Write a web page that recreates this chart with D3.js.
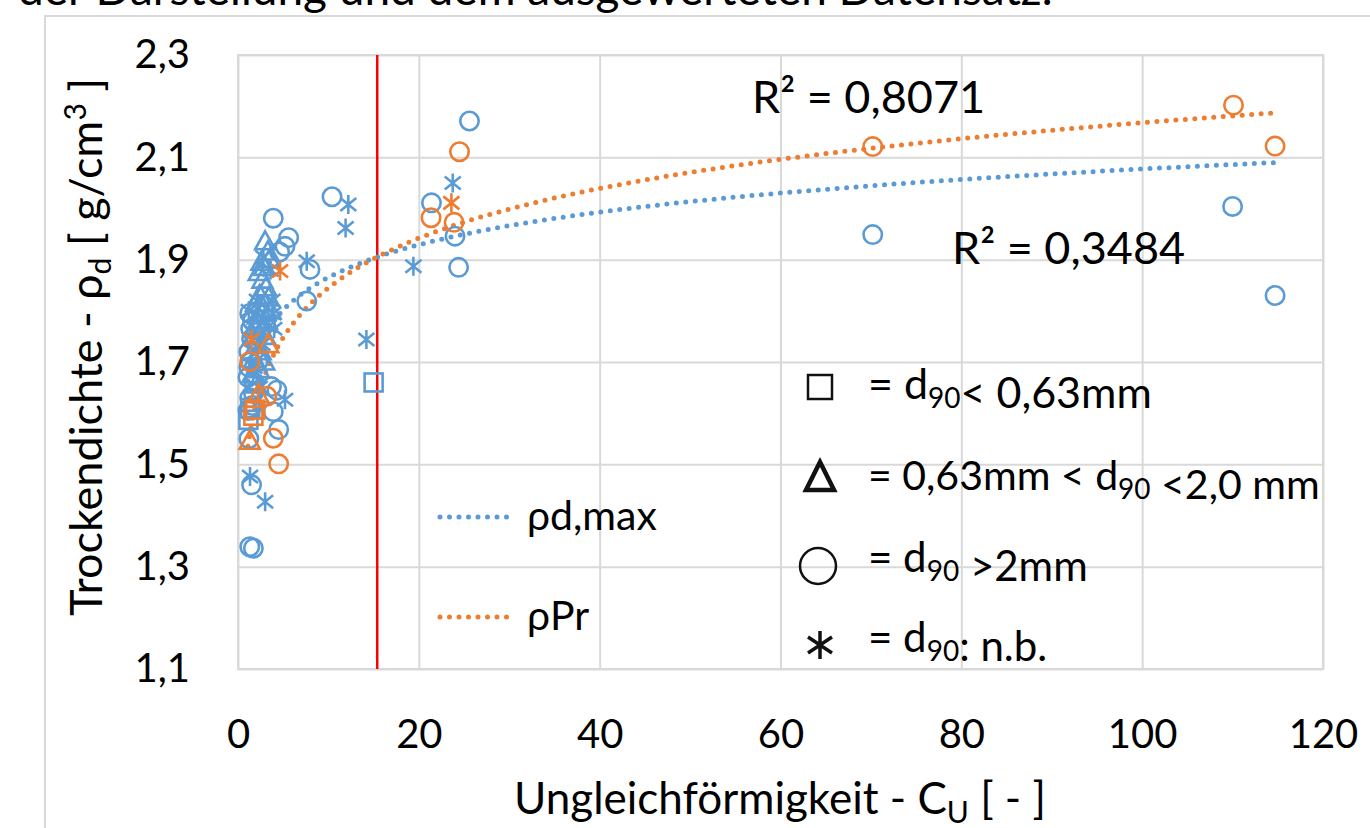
<!DOCTYPE html>
<html>
<head>
<meta charset="utf-8">
<script src="https://cdn.jsdelivr.net/npm/d3@7"></script>
<style>
  body { margin: 0; background: #fff; }
  svg { display: block; }
  text { font-family: Lato, "Open Sans", sans-serif; fill: #000; }
</style>
</head>
<body>
<svg id="chart" width="1370" height="828"></svg>
<script>
// axis ticks
var xTicks = [0, 20, 40, 60, 80, 100, 120];
var yTicks = [1.1, 1.3, 1.5, 1.7, 1.9, 2.1, 2.3];

// rho_d,max (blue) as [Cu, rho_d], split by d90 class
var dmaxCircle = [[25.6,2.171],[21.4,2.011],[24.0,1.946],[24.4,1.885],[10.4,2.023],[7.96,1.881],[7.6,1.819],
    [70.2,1.949],[110.0,2.004],[114.7,1.830],[3.9,1.981],[5.6,1.943],[5.2,1.926],[4.6,1.915],
    [3.7,1.652],[4.3,1.645],[3.9,1.603],[4.5,1.568],[1.5,1.460],[1.3,1.339],[1.7,1.336],[1.2,1.550],
    [1.3,1.795],[1.6,1.780],[1.2,1.720],[2.0,1.740],[1.4,1.700],[1.1,1.670],[1.8,1.660],[1.3,1.630],
    [1.6,1.615],[1.1,1.605],[2.2,1.700],[1.5,1.745],[1.2,1.690],[1.7,1.640],[1.4,1.765],[2.4,1.775]];
var dmaxTriangle = [[3.0,1.935],[3.3,1.915],[2.6,1.895],[2.9,1.885],[3.5,1.900],[2.3,1.875],[2.7,1.860],
    [3.1,1.845],[2.4,1.830],[3.4,1.825],[2.0,1.815],[2.8,1.805],[3.6,1.800],[2.2,1.790],[3.2,1.780],
    [1.9,1.770],[2.6,1.760],[3.0,1.750],[2.1,1.735],[2.5,1.720],[1.8,1.705],[2.9,1.700],[2.3,1.685],
    [1.6,1.675],[2.0,1.655],[1.7,1.750],[2.7,1.795]];
var dmaxSquare = [[15.0,1.660],[1.15,1.587],[1.35,1.610]];
var dmaxStar = [[23.75,2.050],[19.4,1.887],[12.2,2.008],[11.9,1.962],[7.6,1.897],[14.2,1.744],[5.2,1.626],
    [1.33,1.476],[3.0,1.427],[2.8,1.905],[3.6,1.880],[2.1,1.820],[3.9,1.795],[1.5,1.760],[2.7,1.735],
    [3.4,1.770],[1.8,1.690],[4.0,1.765],[2.4,1.650],[1.2,1.800],[3.8,1.820]];

// rho_Pr (orange)
var prCircle = [[21.35,1.982],[23.9,1.973],[24.5,2.111],[70.2,2.121],[110.1,2.202],[114.7,2.122],
    [1.3,1.701],[3.2,1.633],[3.9,1.551],[4.5,1.501]];
var prTriangle = [[3.35,1.734],[2.25,1.636],[1.3,1.545]];
var prSquare = [[1.9,1.607],[1.7,1.595]];
var prStar = [[1.5,1.744],[4.65,1.878],[23.6,2.011]];

// log trend lines y = a*ln(x) + b
var trendDmax = [0.092, 1.6535];
var trendPr = [0.1402, 1.522];
var trendRange = [1.1, 114.7];
var cuLimit = 15.4;

var blue = '#5b9bd5', orange = '#ed7d31', grid = '#d9d9d9';

var svg = d3.select('#chart');
var margin = { left: 238, right: 1323, top: 55, bottom: 669 };

var x = d3.scaleLinear().domain([0, 120]).range([margin.left, margin.right]);
var y = d3.scaleLinear().domain([1.1, 2.3]).range([margin.bottom, margin.top]);

var de = d3.formatLocale({ decimal: ',', thousands: '.', grouping: [3], currency: ['', '€'] });
var fmt1 = de.format('.1f');

// cropped caption line from the page above
svg.append('text')
    .attr('x', 18).attr('y', 5)
    .style('font-size', '46px')
    .text('der Darstellung und dem ausgewerteten Datensatz.');

// outer chart frame
svg.append('path')
    .attr('d', 'M45,828 V16 H1370')
    .attr('fill', 'none').attr('stroke', grid).attr('stroke-width', 2);

// gridlines
svg.append('g')
    .attr('transform', 'translate(' + margin.left + ',0)')
    .call(d3.axisLeft(y).tickValues(yTicks).tickSize(-(margin.right - margin.left)).tickFormat(''))
    .call(function (g) {
        g.select('.domain').remove();
        g.selectAll('line').attr('stroke', grid).attr('stroke-width', 2);
    });
svg.append('g')
    .attr('transform', 'translate(0,' + margin.bottom + ')')
    .call(d3.axisBottom(x).tickValues(xTicks).tickSize(-(margin.bottom - margin.top)).tickFormat(''))
    .call(function (g) {
        g.select('.domain').remove();
        g.selectAll('line').attr('stroke', grid).attr('stroke-width', 2);
    });

svg.append('rect')
    .attr('x', margin.left).attr('y', margin.top)
    .attr('width', margin.right - margin.left).attr('height', margin.bottom - margin.top)
    .attr('fill', 'none').attr('stroke', grid).attr('stroke-width', 2);

// tick labels
svg.append('g')
    .attr('transform', 'translate(' + margin.left + ',0)')
    .call(d3.axisLeft(y).tickValues(yTicks).tickSize(0).tickPadding(48).tickFormat(fmt1))
    .call(function (g) {
        g.select('.domain').remove();
        g.selectAll('text').style('font-size', '40px').attr('fill', '#000').style('font-family', null);
    });
svg.append('g')
    .attr('transform', 'translate(0,' + margin.bottom + ')')
    .call(d3.axisBottom(x).tickValues(xTicks).tickSize(0).tickPadding(51))
    .call(function (g) {
        g.select('.domain').remove();
        g.selectAll('text').style('font-size', '40px').attr('fill', '#000').style('font-family', null);
    });

// axis titles
var xt = svg.append('text')
    .attr('x', 780).attr('y', 814)
    .attr('text-anchor', 'middle')
    .style('font-size', '44px');
xt.append('tspan').text('Ungleichförmigkeit - C');
xt.append('tspan').attr('dy', 9).style('font-size', '30px').text('U');
xt.append('tspan').attr('dy', -9).text(' [ - ]');

var yt = svg.append('text')
    .attr('transform', 'translate(102,347) rotate(-90)')
    .attr('text-anchor', 'middle')
    .style('font-size', '45px');
yt.append('tspan').text('Trockendichte - ρ');
yt.append('tspan').attr('dy', 9).style('font-size', '30px').text('d');
yt.append('tspan').attr('dy', -9).text(' [ g/cm');
yt.append('tspan').attr('dy', -16).style('font-size', '30px').text('3');
yt.append('tspan').attr('dy', 16).text(' ]');

// red Cu limit line
svg.append('line')
    .attr('x1', x(cuLimit)).attr('x2', x(cuLimit))
    .attr('y1', margin.top).attr('y2', margin.bottom)
    .attr('stroke', '#ff0000').attr('stroke-width', 2.5);

// trend lines
function trendPoints(c) {
    var pts = [];
    for (var v = trendRange[0]; v <= trendRange[1]; v += 0.02) pts.push([v, c[0] * Math.log(v) + c[1]]);
    return pts;
}
var line = d3.line().x(function (d) { return x(d[0]); }).y(function (d) { return y(d[1]); });

[[trendDmax, blue], [trendPr, orange]].forEach(function (t) {
    svg.append('path')
        .attr('d', line(trendPoints(t[0])))
        .attr('fill', 'none').attr('stroke', t[1])
        .attr('stroke-width', 5).attr('stroke-linecap', 'round')
        .attr('stroke-dasharray', '0,9.5');
});

// markers
var starPath = 'M0,-9.5V9.5M-8,-6.5L8,6.5M-8,6.5L8,-6.5';
var triPath = 'M0,-10.5L10,7.5L-10,7.5Z';

function drawSet(data, kind, color) {
    var g = svg.append('g').attr('fill', 'none').attr('stroke', color).attr('stroke-width', 2.6);
    var sel = g.selectAll('.m').data(data).enter();
    if (kind === 'circle') {
        sel.append('circle').attr('cx', function (d) { return x(d[0]); })
            .attr('cy', function (d) { return y(d[1]); }).attr('r', 9.2);
    } else if (kind === 'square') {
        sel.append('rect').attr('x', function (d) { return x(d[0]) - 9; })
            .attr('y', function (d) { return y(d[1]) - 9; }).attr('width', 18).attr('height', 18);
    } else {
        sel.append('path').attr('d', kind === 'star' ? starPath : triPath)
            .attr('transform', function (d) { return 'translate(' + x(d[0]) + ',' + y(d[1]) + ')'; });
    }
}
drawSet(dmaxTriangle, 'triangle', blue);
drawSet(dmaxCircle, 'circle', blue);
drawSet(dmaxStar, 'star', blue);
drawSet(dmaxSquare, 'square', blue);
drawSet(prCircle, 'circle', orange);
drawSet(prTriangle, 'triangle', orange);
drawSet(prSquare, 'square', orange);
drawSet(prStar, 'star', orange);

// R² labels
svg.append('text').attr('x', 752).attr('y', 113).style('font-size', '45px').text('R² = 0,8071');
svg.append('text').attr('x', 952).attr('y', 264).style('font-size', '45px').text('R² = 0,3484');

// trend legend
[['ρd,max', blue, 517], ['ρPr', orange, 617]].forEach(function (l) {
    svg.append('line')
        .attr('x1', 440).attr('x2', 515).attr('y1', l[2]).attr('y2', l[2])
        .attr('stroke', l[1]).attr('stroke-width', 5).attr('stroke-linecap', 'round')
        .attr('stroke-dasharray', '0,9.5');
    svg.append('text').attr('x', 527).attr('y', l[2] + 13).style('font-size', '41px').text(l[0]);
});

// d90 symbol legend
var lg = svg.append('g').attr('fill', 'none').attr('stroke', '#111');
lg.append('rect').attr('x', 808).attr('y', 375).attr('width', 24).attr('height', 24).attr('stroke-width', 2.5);
lg.append('path').attr('d', 'M820,462L834,490H806Z').attr('stroke-width', 4.5).attr('stroke-linejoin', 'miter');
lg.append('circle').attr('cx', 818).attr('cy', 566).attr('r', 18).attr('stroke-width', 2.5);
lg.append('path').attr('d', 'M820,631V659M808,637L832,653M808,653L832,637').attr('stroke-width', 3.5);

function legendText(yb, size, parts) {
    var t = svg.append('text').attr('x', 868).attr('y', yb).style('font-size', size + 'px');
    parts.forEach(function (p) {
        if (typeof p === 'object') {
            t.append('tspan').attr('dy', 9).style('font-size', '28px').text(p.sub);
            t.append('tspan').attr('dy', -9).text('');
        } else {
            t.append('tspan').text(p);
        }
    });
}
legendText(399, 43, ['=  d', { sub: '90' }, '< 0,63mm']);
legendText(490, 41, ['= 0,63mm < d', { sub: '90' }, ' <2,0 mm']);
legendText(572, 42, ['= d', { sub: '90' }, ' >2mm']);
legendText(652, 42, ['= d', { sub: '90' }, ': n.b.']);
</script>
</body>
</html>
